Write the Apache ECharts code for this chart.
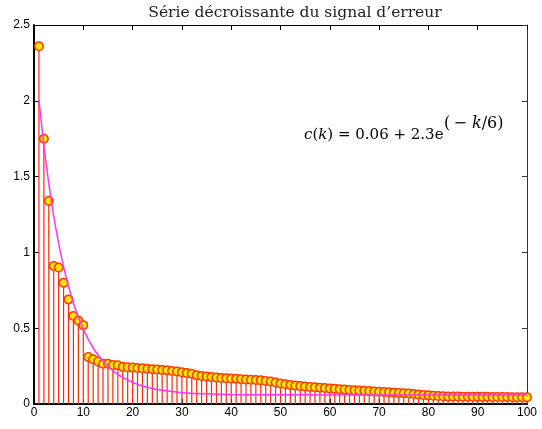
<!DOCTYPE html>
<html>
<head>
<meta charset="utf-8">
<script src="https://cdn.jsdelivr.net/npm/echarts@6/dist/echarts.min.js"></script>
<style>
  html, body { margin: 0; padding: 0; background: #fff; }
  #chart { width: 542px; height: 429px; }
</style>
</head>
<body>
<div id="chart"></div>
<script>
// indices k = 1..100
const steps = [];
for (let k = 1; k <= 100; k++) steps.push(k);

// error values
const errValues = [
  2.36, 1.75, 1.34, 0.91, 0.90, 0.80, 0.69, 0.58, 0.55, 0.52,
  0.31, 0.295, 0.28, 0.265, 0.265, 0.257, 0.255, 0.245, 0.242, 0.240,
  0.238, 0.236, 0.232, 0.230, 0.228, 0.225, 0.222, 0.218, 0.214, 0.210,
  0.205, 0.200, 0.190, 0.185, 0.182, 0.178, 0.175, 0.172, 0.170, 0.168,
  0.166, 0.164, 0.162, 0.160, 0.158, 0.156, 0.152, 0.148, 0.142, 0.135,
  0.130, 0.126, 0.122, 0.118, 0.115, 0.112, 0.110, 0.108, 0.105, 0.102,
  0.100, 0.097, 0.095, 0.093, 0.091, 0.089, 0.087, 0.085, 0.083, 0.081,
  0.079, 0.077, 0.075, 0.073, 0.071, 0.069, 0.066, 0.063, 0.060, 0.057,
  0.055, 0.053, 0.051, 0.050, 0.049, 0.049, 0.048, 0.048, 0.048, 0.047,
  0.047, 0.047, 0.046, 0.046, 0.046, 0.046, 0.045, 0.045, 0.045, 0.045
];

// fitted curve c(k)
const curveK = [1, 2, 3, 4, 5, 6, 7, 8, 9, 10, 11, 12, 13, 14, 15, 16, 17, 18, 19, 20,
  22, 24, 26, 28, 30, 35, 40, 50, 60, 100];
const curveValues = [2.007, 1.708, 1.455, 1.241, 1.060, 0.906, 0.776, 0.666, 0.573, 0.494,
  0.428, 0.371, 0.323, 0.283, 0.249, 0.220, 0.195, 0.175, 0.157, 0.142,
  0.119, 0.102, 0.090, 0.082, 0.075, 0.067, 0.063, 0.061, 0.060, 0.060];

const xTicks = { min: 0, max: 100, interval: 10 };
const yTicks = { min: 0, max: 2.5, interval: 0.5 };

const stemData = steps.map((k, i) => [k, errValues[i]]);
const curveData = curveK.map((k, i) => [k, curveValues[i]]);

const labelFont = { fontFamily: 'Liberation Sans', fontSize: 12, color: '#000' };

let myChart = echarts.init(document.getElementById('chart'));
let option = {
    animation: false,
    grid: { left: 34, right: 15, top: 25, bottom: 25 },
    title: {
        text: 'Série décroissante du signal d\u2019erreur',
        left: 290,
        textAlign: 'center',
        top: 0,
        textStyle: { fontFamily: 'DejaVu Serif', fontWeight: 'normal', fontSize: 15.5, color: '#222' }
    },
    xAxis: [
        {
            type: 'value', min: xTicks.min, max: xTicks.max, interval: xTicks.interval,
            axisLine: { onZero: false, lineStyle: { color: '#000', width: 2 } },
            axisTick: { inside: true, length: 5, lineStyle: { color: '#000' } },
            axisLabel: Object.assign({ margin: 3 }, labelFont),
            splitLine: { show: false }
        },
        {
            type: 'value', position: 'top', min: xTicks.min, max: xTicks.max, interval: xTicks.interval,
            axisLine: { onZero: false, lineStyle: { color: '#000', width: 1 } },
            axisTick: { inside: true, length: 5, lineStyle: { color: '#000' } },
            axisLabel: { show: false },
            splitLine: { show: false }
        }
    ],
    yAxis: [
        {
            type: 'value', min: yTicks.min, max: yTicks.max, interval: yTicks.interval,
            axisLine: { show: true, onZero: false, lineStyle: { color: '#000', width: 2 } },
            axisTick: { show: true, inside: true, length: 5, lineStyle: { color: '#000' } },
            axisLabel: Object.assign({ margin: 4 }, labelFont),
            splitLine: { show: false }
        },
        {
            type: 'value', position: 'right', min: yTicks.min, max: yTicks.max, interval: yTicks.interval,
            axisLine: { show: true, onZero: false, lineStyle: { color: '#333', width: 1 } },
            axisTick: { show: true, inside: true, length: 5, lineStyle: { color: '#333' } },
            axisLabel: { show: false },
            splitLine: { show: false }
        }
    ],
    series: [
        {
            // stems
            type: 'bar',
            data: stemData,
            barWidth: 1.2,
            itemStyle: { color: '#ff2a00' },
            z: 2
        },
        {
            type: 'scatter',
            data: stemData,
            symbol: 'circle',
            symbolSize: 8.5,
            itemStyle: { color: '#ffe800', borderColor: '#ff3a00', borderWidth: 1.5, opacity: 1 },
            z: 3
        },
        {
            type: 'line',
            data: curveData,
            smooth: 0.3,
            showSymbol: false,
            lineStyle: { color: '#ff33ff', width: 1.5 },
            z: 4
        }
    ],
    graphic: [
        {
            type: 'text',
            left: 304,
            top: 128,
            style: {
                text: '{i|c}({i|k}) = 0.06 + 2.3e',
                fontFamily: 'DejaVu Serif',
                fontSize: 15,
                fill: '#000',
                rich: { i: { fontStyle: 'italic', fontFamily: 'DejaVu Serif', fontSize: 15 } }
            },
            z: 10
        },
        {
            type: 'text',
            left: 444,
            top: 116,
            style: {
                text: '(\u2009\u2212 {i|k}/6)',
                fontFamily: 'DejaVu Serif',
                fontSize: 16,
                fill: '#000',
                rich: { i: { fontStyle: 'italic', fontFamily: 'DejaVu Serif', fontSize: 16 } }
            },
            z: 10
        }
    ]
};
option && myChart.setOption(option);
window.addEventListener('resize', myChart.resize);
</script>
</body>
</html>
